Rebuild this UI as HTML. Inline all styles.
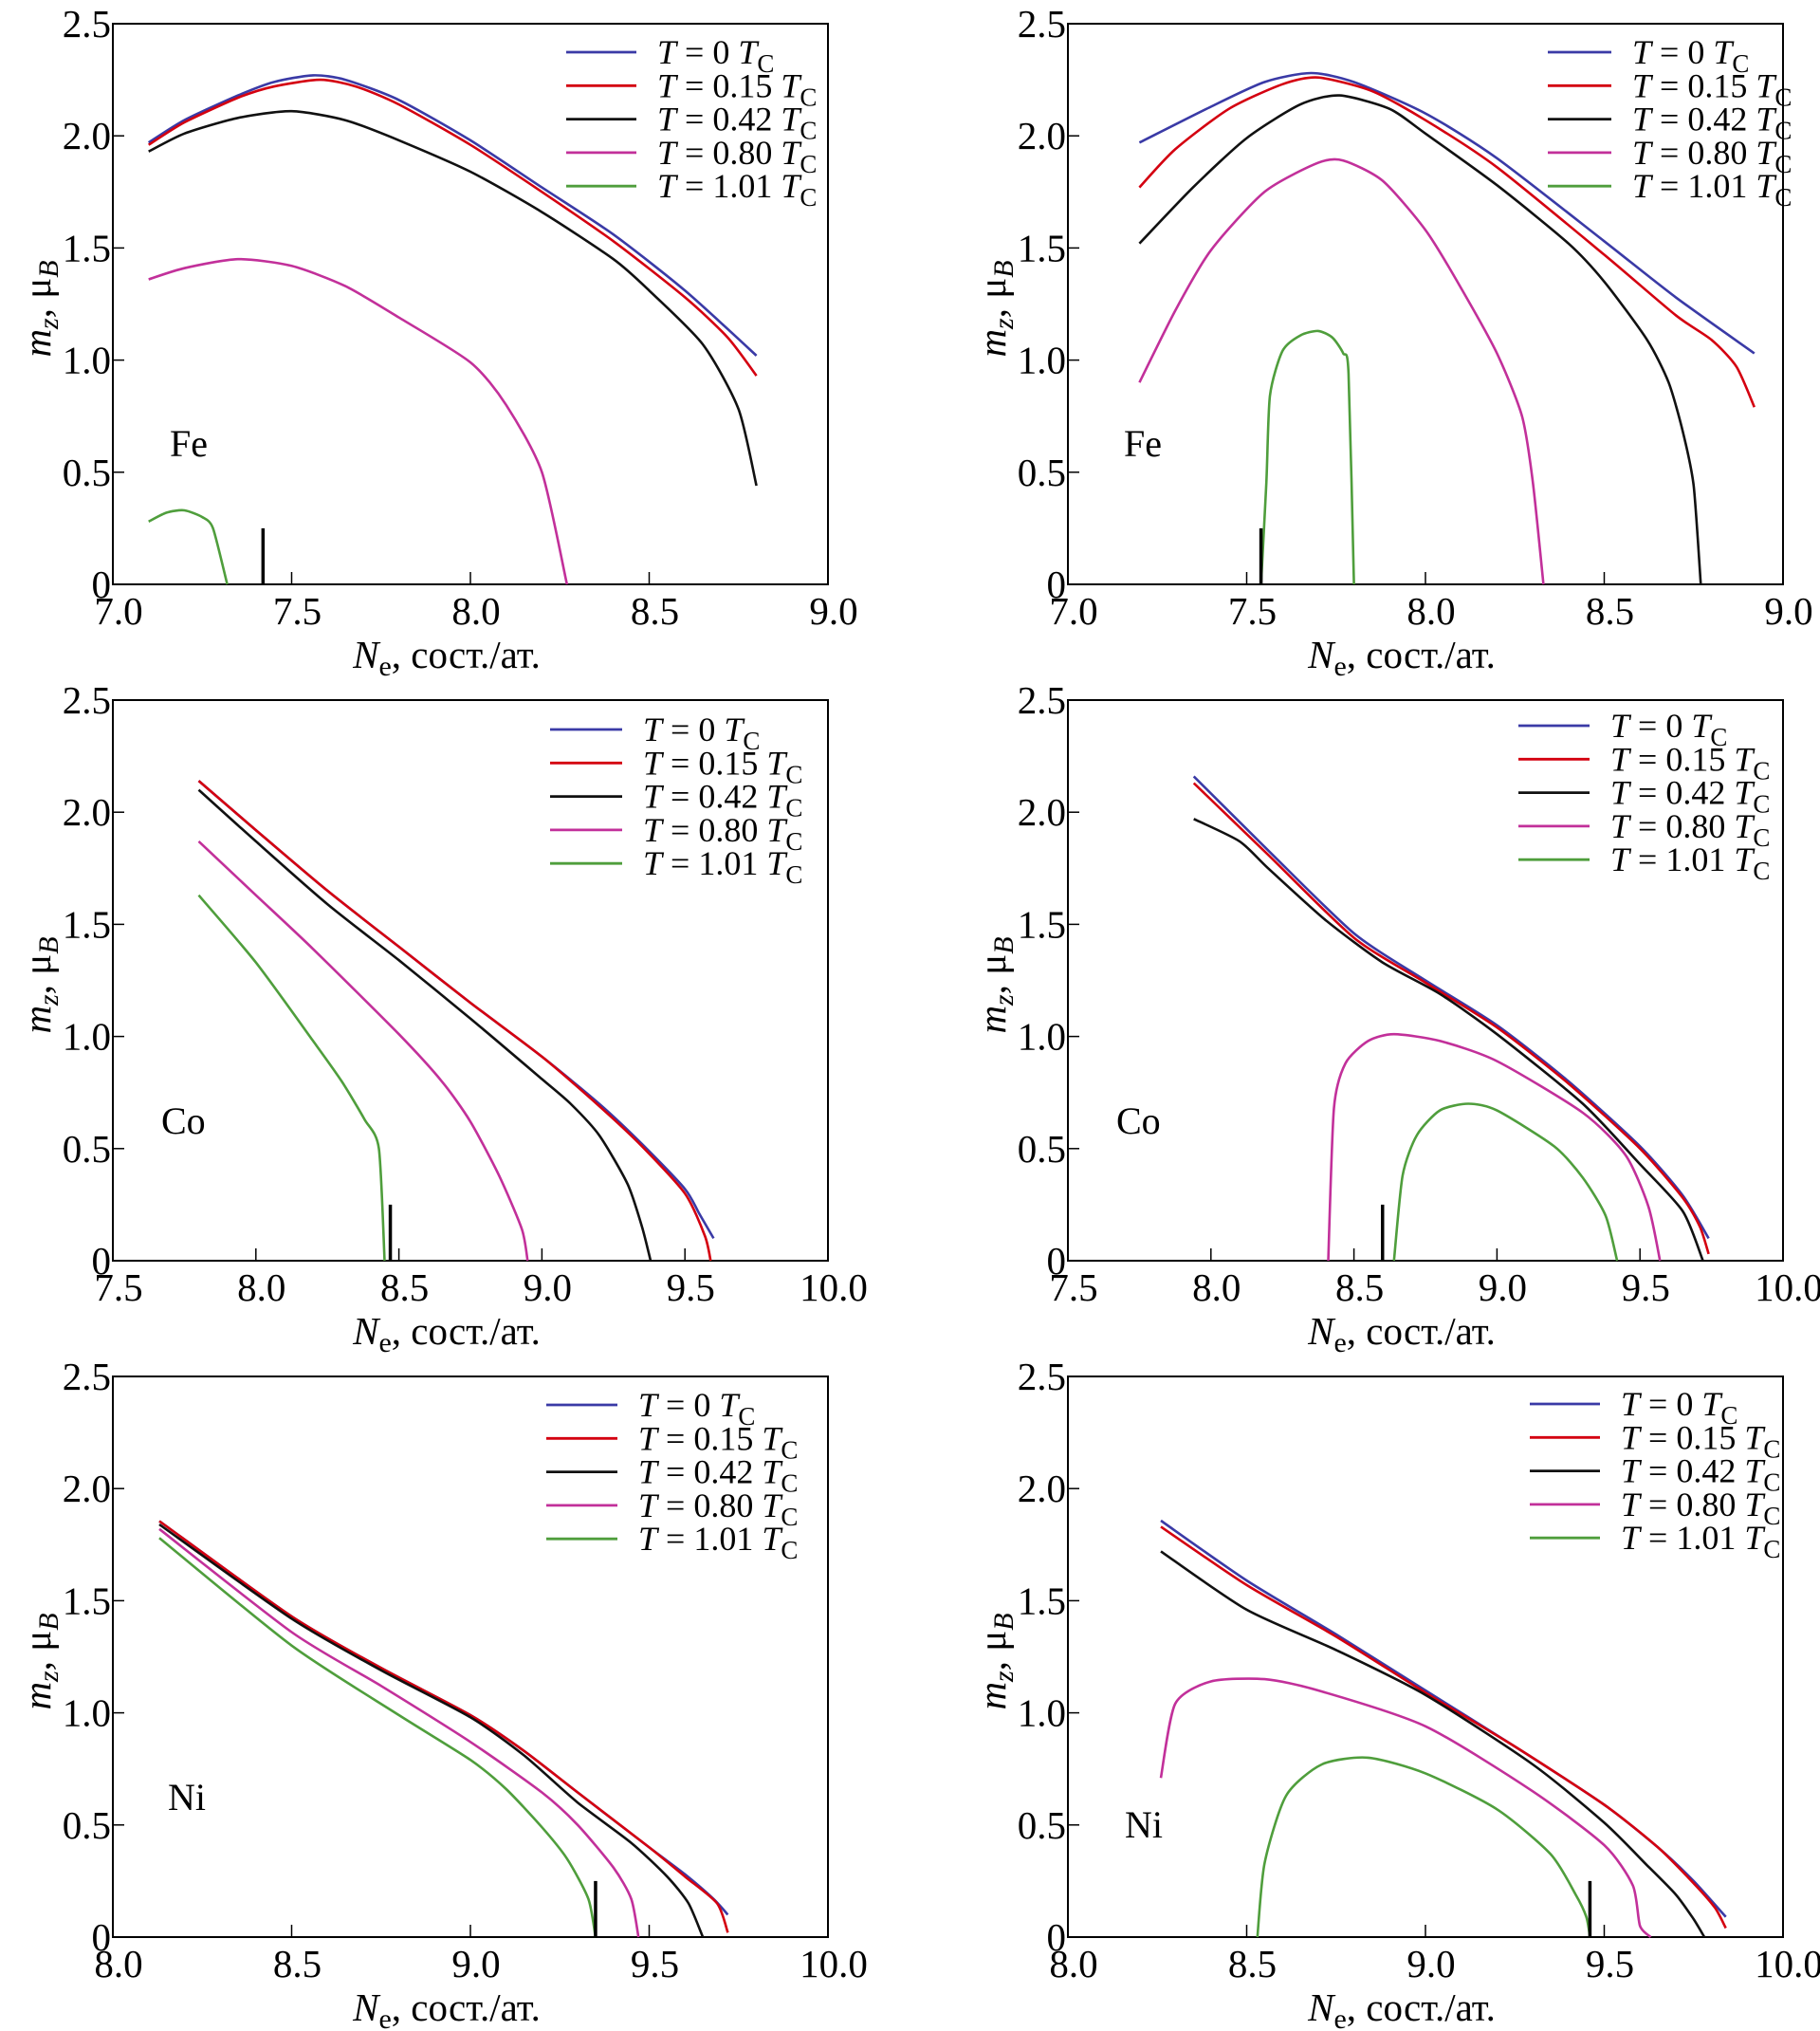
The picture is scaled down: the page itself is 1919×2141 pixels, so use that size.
<!DOCTYPE html>
<html><head><meta charset="utf-8"><style>
html,body{margin:0;padding:0;background:#fff;}
svg{display:block;}
svg text{font-family:"Liberation Serif","DejaVu Serif",serif;}
</style></head><body>
<svg id="fig" width="1919" height="2141" viewBox="0 0 1919 2141" xmlns="http://www.w3.org/2000/svg" font-family="Liberation Serif, serif"></svg>
<script>
// ---- data ----
const seriesNames = ["T = 0", "T = 0.15", "T = 0.42", "T = 0.80", "T = 1.01"];
const seriesColors = ["#3a3aa6", "#d40010", "#111111", "#c2309a", "#4f9e3c"];
const yTicks = [0, 0.5, 1.0, 1.5, 2.0, 2.5];
const yTickLabels = ["0", "0.5", "1.0", "1.5", "2.0", "2.5"];
const xTicksFe = [7.0, 7.5, 8.0, 8.5, 9.0];
const xTicksCo = [7.5, 8.0, 8.5, 9.0, 9.5, 10.0];
const xTicksNi = [8.0, 8.5, 9.0, 9.5, 10.0];
const elementLabels = ["Fe", "Fe", "Co", "Co", "Ni", "Ni"];
const markerX = [7.42, 7.54, 8.47, 8.60, 9.35, 9.46];

const feLeft = [
 [[7.1,1.97],[7.2,2.07],[7.35,2.18],[7.45,2.24],[7.56,2.27],[7.65,2.25],[7.8,2.16],[8.0,1.98],[8.2,1.77],[8.4,1.56],[8.6,1.31],[8.8,1.02]],
 [[7.1,1.96],[7.2,2.06],[7.35,2.17],[7.45,2.22],[7.58,2.25],[7.68,2.22],[7.8,2.14],[8.0,1.96],[8.2,1.75],[8.4,1.53],[8.6,1.28],[8.72,1.10],[8.8,0.93]],
 [[7.1,1.93],[7.2,2.01],[7.35,2.08],[7.5,2.11],[7.65,2.07],[7.8,1.98],[8.0,1.84],[8.2,1.66],[8.4,1.45],[8.5,1.31],[8.65,1.07],[8.75,0.78],[8.8,0.44]],
 [[7.1,1.36],[7.2,1.41],[7.35,1.45],[7.5,1.42],[7.65,1.33],[7.8,1.19],[8.0,0.99],[8.1,0.80],[8.2,0.50],[8.27,0.0]],
 [[7.1,0.28],[7.15,0.32],[7.2,0.33],[7.25,0.30],[7.28,0.25],[7.32,0.0]]
];
const feRight = [
 [[7.2,1.97],[7.4,2.13],[7.55,2.24],[7.68,2.28],[7.8,2.24],[8.0,2.10],[8.2,1.90],[8.5,1.53],[8.7,1.28],[8.92,1.03]],
 [[7.2,1.77],[7.3,1.94],[7.45,2.12],[7.6,2.23],[7.7,2.26],[7.85,2.20],[8.0,2.07],[8.2,1.86],[8.5,1.47],[8.7,1.20],[8.8,1.09],[8.87,0.97],[8.92,0.79]],
 [[7.2,1.52],[7.35,1.77],[7.5,1.99],[7.65,2.14],[7.76,2.18],[7.9,2.12],[8.0,2.01],[8.2,1.78],[8.4,1.52],[8.5,1.35],[8.62,1.09],[8.68,0.90],[8.72,0.68],[8.75,0.44],[8.77,0.0]],
 [[7.2,0.90],[7.3,1.22],[7.4,1.49],[7.55,1.75],[7.7,1.88],[7.77,1.89],[7.88,1.80],[8.0,1.58],[8.1,1.32],[8.2,1.03],[8.27,0.75],[8.3,0.46],[8.33,0.0]],
 [[7.54,0.0],[7.555,0.45],[7.565,0.84],[7.6,1.04],[7.65,1.11],[7.70,1.13],[7.74,1.10],[7.77,1.03],[7.785,0.94],[7.80,0.0]]
];
const coLeft = [
 [[7.8,2.14],[8.0,1.92],[8.25,1.65],[8.5,1.40],[8.75,1.15],[9.0,0.91],[9.2,0.70],[9.35,0.52],[9.5,0.32],[9.55,0.21],[9.6,0.10]],
 [[7.8,2.14],[8.0,1.92],[8.25,1.65],[8.5,1.40],[8.75,1.15],[9.0,0.91],[9.2,0.69],[9.35,0.51],[9.5,0.30],[9.57,0.11],[9.59,0.0]],
 [[7.8,2.10],[8.0,1.87],[8.25,1.59],[8.5,1.34],[8.75,1.08],[9.0,0.81],[9.1,0.70],[9.2,0.56],[9.3,0.34],[9.35,0.15],[9.38,0.0]],
 [[7.8,1.87],[8.0,1.63],[8.2,1.39],[8.5,1.01],[8.65,0.80],[8.75,0.62],[8.85,0.38],[8.93,0.14],[8.95,0.0]],
 [[7.8,1.63],[8.0,1.33],[8.2,0.98],[8.3,0.80],[8.38,0.63],[8.43,0.50],[8.45,0.0]]
];
const coRight = [
 [[7.94,2.16],[8.2,1.83],[8.5,1.46],[8.75,1.25],[9.0,1.05],[9.25,0.80],[9.5,0.51],[9.65,0.29],[9.74,0.10]],
 [[7.94,2.13],[8.2,1.81],[8.5,1.44],[8.75,1.24],[9.0,1.04],[9.25,0.79],[9.5,0.50],[9.65,0.28],[9.71,0.15],[9.74,0.03]],
 [[7.94,1.97],[8.1,1.87],[8.2,1.75],[8.4,1.52],[8.6,1.33],[8.8,1.19],[9.0,1.01],[9.3,0.70],[9.5,0.43],[9.65,0.22],[9.72,0.0]],
 [[8.41,0.0],[8.43,0.68],[8.47,0.88],[8.55,0.98],[8.64,1.01],[8.8,0.98],[9.0,0.89],[9.3,0.66],[9.45,0.47],[9.53,0.24],[9.57,0.0]],
 [[8.64,0.0],[8.67,0.38],[8.72,0.56],[8.8,0.67],[8.9,0.70],[9.0,0.67],[9.2,0.51],[9.3,0.37],[9.38,0.20],[9.42,0.0]]
];
const niLeft = [
 [[8.13,1.855],[8.5,1.43],[8.75,1.20],[9.0,0.99],[9.15,0.83],[9.3,0.645],[9.5,0.40],[9.6,0.28],[9.68,0.17],[9.72,0.10]],
 [[8.13,1.855],[8.5,1.43],[8.75,1.20],[9.0,0.99],[9.15,0.83],[9.3,0.645],[9.5,0.40],[9.6,0.27],[9.69,0.15],[9.72,0.02]],
 [[8.13,1.84],[8.5,1.42],[8.75,1.19],[9.0,0.98],[9.15,0.81],[9.3,0.60],[9.45,0.42],[9.55,0.27],[9.61,0.15],[9.65,0.0]],
 [[8.13,1.82],[8.5,1.36],[8.75,1.12],[9.0,0.87],[9.2,0.645],[9.3,0.50],[9.4,0.31],[9.45,0.17],[9.47,0.0]],
 [[8.13,1.78],[8.5,1.30],[8.8,0.99],[9.0,0.79],[9.1,0.66],[9.2,0.49],[9.27,0.35],[9.33,0.17],[9.35,0.0]]
];
const niRight = [
 [[8.26,1.857],[8.5,1.59],[8.75,1.35],[9.0,1.10],[9.25,0.85],[9.5,0.59],[9.65,0.40],[9.75,0.25],[9.84,0.09]],
 [[8.26,1.83],[8.5,1.57],[8.75,1.34],[9.0,1.09],[9.25,0.85],[9.5,0.59],[9.65,0.40],[9.75,0.24],[9.81,0.13],[9.84,0.04]],
 [[8.26,1.72],[8.5,1.46],[8.75,1.28],[9.0,1.08],[9.3,0.77],[9.5,0.51],[9.62,0.32],[9.7,0.19],[9.75,0.08],[9.78,0.0]],
 [[8.26,0.71],[8.3,1.04],[8.4,1.14],[8.55,1.15],[8.7,1.10],[9.0,0.94],[9.3,0.65],[9.5,0.41],[9.58,0.23],[9.6,0.05],[9.63,0.0]],
 [[8.53,0.0],[8.55,0.33],[8.61,0.63],[8.71,0.77],[8.84,0.80],[9.0,0.73],[9.2,0.57],[9.35,0.37],[9.42,0.19],[9.45,0.09],[9.46,0.0]]
];

const panelData = [feLeft, feRight, coLeft, coRight, niLeft, niRight];
const panelXTicks = [xTicksFe, xTicksFe, xTicksCo, xTicksCo, xTicksNi, xTicksNi];

// ---- layout ----
const svg = document.getElementById('fig');
const NS = 'http://www.w3.org/2000/svg';
const FONT = '"Liberation Serif", serif';
const colL = [119, 1126], colW = 754;
const rowT = [25, 738, 1451], rowH = 591;
const legendLineX = [[597, 671], [1632, 1699], [580, 656], [1601, 1676], [576, 651], [1613, 1687]];
const legendTop = [55, 55, 769, 765, 1481, 1480];
const legendStep = 35.3;
const elemPos = [[179, 481], [1185, 481], [170, 1195], [1177, 1195], [177, 1908], [1186, 1937]];

function mk(tag, attrs, parent) {
  const e = document.createElementNS(NS, tag);
  for (const k in attrs) e.setAttribute(k, attrs[k]);
  if (tag === 'text') e.setAttribute('font-family', FONT);
  (parent || svg).appendChild(e);
  return e;
}

// smooth path through points (Catmull-Rom, mild tension, clamped)
function smoothPath(P) {
  let d = 'M' + P[0][0].toFixed(1) + ' ' + P[0][1].toFixed(1);
  const k = 0.12;
  for (let i = 0; i < P.length - 1; i++) {
    const p0 = P[Math.max(0, i - 1)], p1 = P[i], p2 = P[i + 1], p3 = P[Math.min(P.length - 1, i + 2)];
    const c1 = [p1[0] + (p2[0] - p0[0]) * k, p1[1] + (p2[1] - p0[1]) * k];
    const c2 = [p2[0] - (p3[0] - p1[0]) * k, p2[1] - (p3[1] - p1[1]) * k];
    d += ' C' + c1[0].toFixed(1) + ' ' + c1[1].toFixed(1) + ' ' + c2[0].toFixed(1) + ' ' + c2[1].toFixed(1) + ' ' + p2[0].toFixed(1) + ' ' + p2[1].toFixed(1);
  }
  return d;
}

for (let p = 0; p < 6; p++) {
  const L = colL[p % 2], T = rowT[Math.floor(p / 2)];
  const ticks = panelXTicks[p];
  const xmin = ticks[0], xmax = ticks[ticks.length - 1];
  const xs = v => L + (v - xmin) / (xmax - xmin) * colW;
  const ys = v => T + rowH - v / 2.5 * rowH;

  const g = mk('g', {});
  
  

  const frame = mk('rect', {x: L, y: T, width: colW, height: rowH, fill: 'none', stroke: '#000', 'stroke-width': 2}, g);
  
  

  yTicks.forEach((v, i) => {
    if (i > 0 && i < yTicks.length - 1) {
      const t = mk('line', {x1: L, x2: L + 12, y1: ys(v), y2: ys(v), stroke: '#000', 'stroke-width': 1.5}, g);
      
      
    }
    const tx = mk('text', {x: L - 2, y: ys(v) + 14, 'font-size': 41, 'text-anchor': 'end'}, g);
    tx.textContent = yTickLabels[i];
    
    
  });
  ticks.forEach((v, i) => {
    if (i > 0 && i < ticks.length - 1) {
      const t = mk('line', {x1: xs(v), x2: xs(v), y1: T + rowH, y2: T + rowH - 13, stroke: '#000', 'stroke-width': 1.5}, g);
      
      
    }
    const tx = mk('text', {x: xs(v) + 6, y: T + rowH + 42, 'font-size': 41, 'text-anchor': 'middle'}, g);
    tx.textContent = v.toFixed(1);
    
    
  });

  const xt = mk('text', {x: L + colW / 2 - 25, y: T + rowH + 88, 'font-size': 41, 'text-anchor': 'middle'}, g);
  xt.innerHTML = '<tspan font-style="italic">N</tspan><tspan font-size="30" dy="8">e</tspan><tspan dy="-8">, сост./ат.</tspan>';
  
  
  const cy = T + rowH / 2 + 5;
  const yt = mk('text', {x: 0, y: 0, 'font-size': 41, 'text-anchor': 'middle', transform: 'translate(' + (L - 66) + ',' + cy + ') rotate(-90)'}, g);
  yt.innerHTML = '<tspan font-style="italic">m</tspan><tspan font-style="italic" font-size="30" dy="8">z</tspan><tspan dy="-8">, μ</tspan><tspan font-style="italic" font-size="30" dy="8">B</tspan>';
  
  

  panelData[p].forEach((pts, s) => {
    const P = pts.map(q => [xs(q[0]), ys(q[1])]);
    const path = mk('path', {d: smoothPath(P), fill: 'none', stroke: seriesColors[s], 'stroke-width': 2.6, 'stroke-linejoin': 'round'}, g);
    
    
  });

  const mkr = mk('line', {x1: xs(markerX[p]), x2: xs(markerX[p]), y1: ys(0), y2: ys(0.25), stroke: '#000', 'stroke-width': 3.5}, g);
  
  

  seriesNames.forEach((nm, s) => {
    const y = legendTop[p] + s * legendStep;
    const ln = mk('line', {x1: legendLineX[p][0], x2: legendLineX[p][1], y1: y, y2: y, stroke: seriesColors[s], 'stroke-width': 2.8}, g);
    
    
    const tx = mk('text', {x: legendLineX[p][1] + 22, y: y + 12, 'font-size': 36}, g);
    const parts = nm.split(' = ');
    tx.innerHTML = '<tspan font-style="italic">T</tspan> = ' + parts[1] + ' <tspan font-style="italic">T</tspan><tspan font-size="27" dy="9">C</tspan>';
    
    
  });

  const el = mk('text', {x: elemPos[p][0], y: elemPos[p][1], 'font-size': 40}, g);
  el.textContent = elementLabels[p];
  
  
}
</script>
</body></html>
